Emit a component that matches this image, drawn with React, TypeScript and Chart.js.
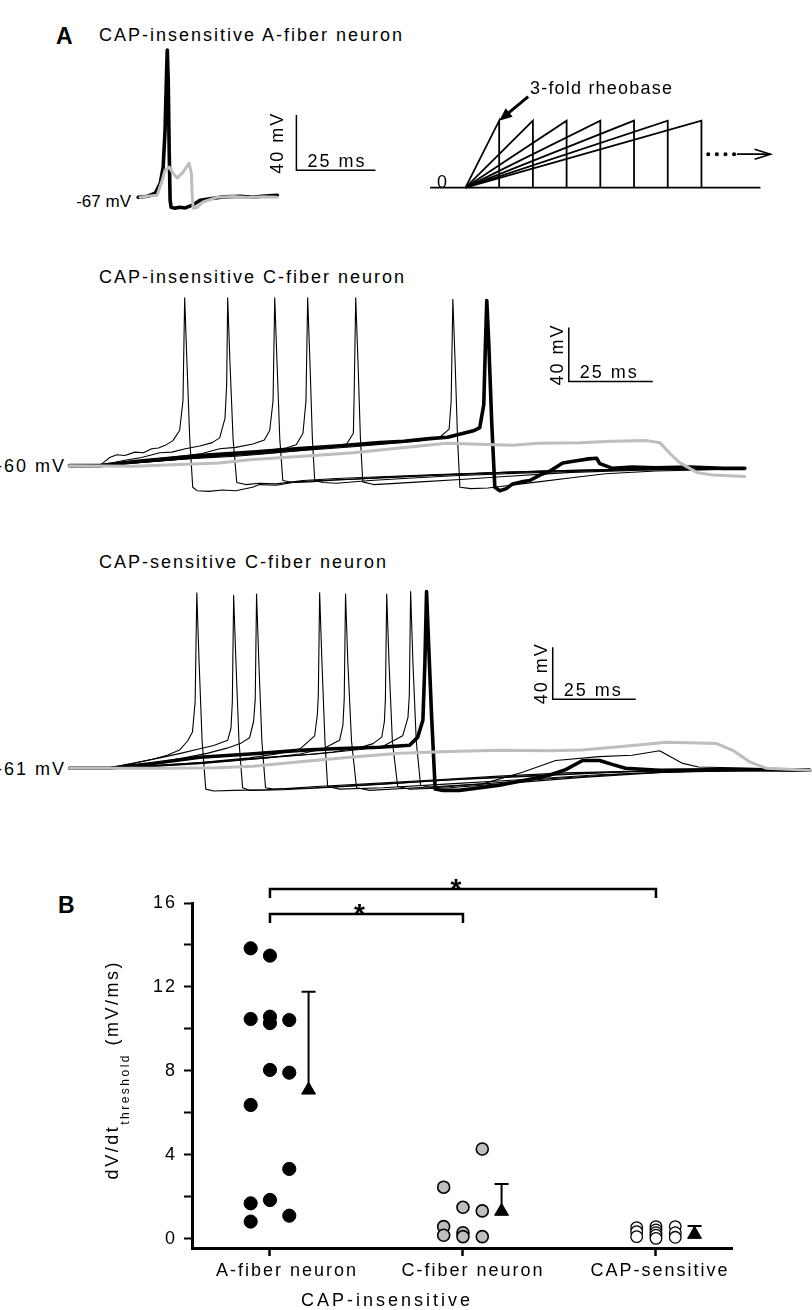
import React, { useEffect, useRef } from 'react';
import { Chart, registerables } from 'chart.js';

Chart.register(...registerables);

const FONT = '"Liberation Sans", Arial, Helvetica, sans-serif';
const LS = 2;
Chart.defaults.font.family = FONT;
Chart.defaults.color = '#000';

type Pt = [number, number];

// ---------------- Panel A: CAP-insensitive A-fiber neuron (ms, mV) ----------------
const aFiberRest = -67;
const aFiberSpike: Pt[] = [
  [0, -67.7], [3, -67], [5.4, -64.8], [7.0, -57.5], [7.9, -45.9], [8.5, -19], [9.0, 24.6], [9.2, 39.2],
  [9.5, 17.4], [9.8, -33.5], [10.1, -69.9], [10.4, -75], [11.7, -75.7], [13, -75], [14.9, -75.5],
  [17.1, -73.5], [19.6, -69.9], [23.7, -68.5], [27, -67.5], [32.3, -67], [36, -67.8], [40, -66.8], [44, -66.3],
];
const aFiberSub: Pt[] = [
  [0.6, -67.7], [3, -67], [6.0, -66.3], [7.6, -55.4], [8.5, -48.1], [9.8, -45.9], [10.8, -49.5], [12.3, -53.9],
  [14.2, -49.5], [16.1, -43], [16.8, -50.3], [17.1, -67.7], [17.4, -75.7], [18.7, -75], [20.3, -71.4],
  [25, -67.7], [30, -67.2], [35, -68], [40, -67.3], [44, -67.7],
];

// ---------------- Stimulation protocol (ramp end = multiples of first ramp) ----------------
const rampDurations = [1, 2, 3, 4, 5, 6, 7];
const rampAmplitude = 3; // 3-fold rheobase
const protocolSpan: Pt = [-1.05, 8.75];
const continuationDots: Pt = [7.2, 8.05];
const continuationArrowEnd = 9.05;
const continuationLevel = 1.5;

// ---------------- Panel A: CAP-insensitive C-fiber neuron (ms, mV) ----------------
const cInsRest = -60;
const cIns1: Pt[] = [[0.5, -60], [5, -60.5], [9.5, -60], [11, -57], [12.5, -54], [14.6, -52], [17, -52.5], [20, -50], [22.5, -50.5], [25, -47.5], [27, -47], [29, -45], [31.3, -41.5], [33.3, -34], [34.3, -12], [34.8, 64], [35.5, 15], [36.3, -40], [37.2, -76], [38.5, -78.5], [42, -79], [46, -78], [50, -78.5], [55, -76], [57, -74], [62, -74.5], [68, -72], [75, -71], [85, -70], [95, -68.5], [110, -67], [125, -65.5], [140, -64], [160, -63], [180, -62.5], [201.5, -62]];
const cIns2: Pt[] = [[0.5, -60], [9.5, -60], [13, -58], [17, -56], [22, -54], [27.4, -50.5], [31, -50], [35, -47.5], [39.3, -45.5], [43, -43], [45.2, -39.5], [46.8, -25], [47.3, 0], [47.6, 64], [48.3, 15], [49.2, -40], [50.3, -72.5], [53, -74], [57, -73], [62, -73.5], [70, -71], [80, -69.5], [95, -68], [110, -66.5], [130, -65], [150, -63.5], [175, -62.5], [201.5, -62]];
const cIns3: Pt[] = [[0.5, -60], [9.5, -60], [15, -58.5], [22, -56], [30, -54], [35.4, -52.5], [40, -51], [45.2, -47.5], [50, -46.5], [55.1, -44], [58.5, -41], [60.1, -34], [61.1, -12], [61.6, 64], [62.3, 15], [63.1, -40], [64, -71], [67, -72.5], [72, -72], [80, -70.5], [95, -69], [110, -67], [130, -65], [160, -63], [201.5, -62]];
const cIns4: Pt[] = [[0.5, -60], [9.5, -60], [18, -58], [30, -56], [40, -54], [50, -52], [60, -48.5], [65, -47], [68, -44.5], [70, -36], [70.9, -12], [71.4, 64], [72.1, 15], [72.8, -40], [73.5, -71], [76, -72.5], [80, -73], [90, -71], [100, -69.5], [115, -67.5], [135, -65.5], [160, -63.5], [201.5, -62]];
const cIns5: Pt[] = [[0.5, -60], [9.5, -60], [20, -58], [35, -55], [50, -53], [60, -51], [70, -48.5], [78, -46.5], [83, -44], [85, -36], [85.2, -12], [85.7, 64], [86.4, 15], [87.1, -40], [87.8, -72], [91, -74], [95, -73.5], [105, -72], [118, -70], [130, -68], [150, -65], [175, -63], [201.5, -62]];
const cIns6: Pt[] = [[0.5, -60], [9.5, -60], [25, -57], [40, -54], [55, -51.5], [69, -49], [85, -46], [98.8, -43], [105, -41.5], [110.7, -39], [113.5, -33], [114.1, -12], [114.6, 63], [115.3, 15], [116, -40], [116.7, -76], [120, -77], [125, -76.5], [130, -75], [140, -72], [150, -69], [160, -66], [175, -64], [201.5, -62.5]];
const cInsThick: Pt[] = [[0.5, -60], [9.5, -60], [20, -57], [39.3, -52.6], [55, -50], [69, -47.4], [80, -45.5], [92.9, -43], [100, -42], [107.7, -40], [113, -39], [117.5, -36.3], [121, -34], [122.6, -31.9], [123.8, -15], [124.3, 30], [124.7, 62], [125.3, 30], [126.2, -30], [127.1, -76], [128.6, -78.5], [130.5, -77], [132.4, -73.5], [135, -72], [137.5, -71], [140.5, -67], [143.5, -64], [147.3, -58], [150, -57], [152.4, -56], [155, -55], [157.4, -54.5], [158.3, -58.5], [162.2, -62], [168, -61], [175, -61.5], [185, -61], [195, -62], [201.5, -62]];
const cInsGray: Pt[] = [[0.5, -60], [20, -60.5], [35, -59], [45, -58], [55, -55.5], [70, -53], [85, -50.5], [98.8, -47], [112.8, -43.5], [120, -44], [132.4, -45], [140, -43.5], [152.4, -43], [162, -42], [172.3, -41.5], [176.2, -43], [179.2, -51], [182.1, -57.8], [187.2, -65], [192, -67], [201.5, -68]];

// ---------------- Panel A: CAP-sensitive C-fiber neuron (ms, mV) ----------------
const cSenRest = -61;
const cSen1: Pt[] = [[0.6, -61], [8, -61.5], [12.7, -61], [15.7, -59], [20, -57], [25.6, -54], [30, -51], [33.7, -47], [36.1, -40], [37.6, -33], [38.4, -10], [38.9, 74], [39.6, 20], [40.5, -40], [41.6, -77], [44, -78.5], [50, -78], [60, -77.5], [75, -75], [90, -73], [110, -70], [130, -67], [150, -64.5], [175, -63], [200, -62], [223.5, -61.5]];
const cSen2: Pt[] = [[0.6, -61], [12.7, -61], [16, -59], [22, -56], [27.7, -53], [34, -49.5], [39.8, -46], [44, -43.5], [48.2, -39.5], [49.2, -30], [49.6, -10], [50, 72], [50.7, 20], [51.6, -40], [52.7, -76], [55, -78], [65, -77.5], [80, -75.5], [100, -72.5], [120, -69], [145, -66], [170, -63.5], [200, -62], [223.5, -61.5]];
const cSen3: Pt[] = [[0.6, -61], [12.7, -61], [20, -59], [28, -56], [35, -53], [42, -49.5], [48, -45.5], [52, -42], [54.8, -37.5], [56, -25], [56.5, -8], [56.9, 73], [57.6, 20], [58.5, -40], [59.6, -76], [62, -77], [75, -76], [95, -73], [115, -70], [140, -67], [165, -64], [195, -62], [223.5, -61.5]];
const cSen4: Pt[] = [[0.6, -61], [12.7, -61], [25, -59], [40, -56.5], [54.8, -53], [63, -50], [70, -46], [74.4, -36], [75.2, -20], [75.5, -5], [75.9, 74], [76.6, 20], [77.5, -40], [78.3, -75], [82, -77], [95, -76], [115, -73], [135, -70], [160, -66], [190, -63], [223.5, -62]];
const cSen5: Pt[] = [[0.6, -61], [12.7, -61], [25, -59.5], [40, -57.5], [60, -53], [70, -50], [77, -46], [81.9, -39.5], [82.9, -28], [83.3, -8], [83.7, 73], [84.4, 20], [85.5, -40], [87, -76], [91, -78], [105, -76], [125, -73], [145, -69], [170, -65], [200, -62.5], [223.5, -62]];
const cSen6: Pt[] = [[0.6, -61], [12.7, -61], [25, -59.5], [40, -57], [55, -54], [70, -51], [80, -48.5], [88, -45], [92, -42], [94.6, -37], [95.4, -25], [95.7, -8], [96.1, 73], [96.8, 20], [97.8, -40], [99.4, -75], [103, -77], [115, -76], [135, -72], [155, -68], [180, -64], [223.5, -62]];
const cSen7: Pt[] = [[0.6, -61], [12.7, -61], [25, -59], [40, -56.5], [60, -52.5], [75, -50], [88, -46.5], [95, -44], [100.9, -36], [102.5, -22], [102.9, -5], [103.3, 75], [104, 20], [105, -40], [106.3, -74], [110, -76], [125, -73], [137, -64], [147, -55], [160, -52], [170, -51], [178.3, -47.5], [185, -57], [190, -60], [223.5, -62]];
const cSenThick: Pt[] = [[0.6, -61], [12.7, -61], [25, -57.5], [39.8, -52.5], [55, -50], [69.9, -47.2], [80, -46], [94, -44.8], [103, -43.3], [105.4, -37.2], [107, -24], [107.6, 20], [108.1, 75], [108.8, 30], [109.6, -20], [110.7, -77], [113, -78], [118, -78], [130.1, -74], [138, -70], [145, -66.4], [150, -62], [155.1, -55], [160.2, -55], [164, -58], [168, -61], [178.3, -62.5], [200, -62], [223.5, -62.5]];
const cSenGray: Pt[] = [[0.6, -61], [12.7, -61], [30, -61], [45, -60.5], [56, -59.5], [70, -56], [85, -52.5], [100, -49.5], [115, -48], [130.1, -47.2], [145, -47.5], [155, -47], [170.2, -43.5], [180.4, -41], [190, -41.5], [195.5, -42], [200.3, -47.2], [205.4, -56], [210.5, -61], [223.5, -62.5]];

// ---------------- Panel B: dV/dt at threshold (mV/ms) ----------------
const groupLabels = ['A-fiber neuron', 'C-fiber neuron', 'CAP-sensitive'];
const groupTitle = 'CAP-insensitive';
const aFiberValues = [13.84, 10.47, 6.37, 1.68, 0.81, 13.49, 10.58, 10.27, 8.04, 1.84, 10.42, 7.91, 3.32, 1.09];
const aFiberColumn = [-1, -1, -1, -1, -1, 0, 0, 0, 0, 0, 1, 1, 1, 1];
const cFiberValues = [2.45, 0.57, 0.16, 1.49, 0.28, 0.09, 4.27, 1.32, 0.09];
const cFiberColumn = [-1, -1, -1, 0, 0, 0, 1, 1, 1];
const capSenValues = [0.52, 0.33, 0.09, 0.57, 0.41, 0.28, 0.16, 0.01, 0.57, 0.28, 0.06];
const capSenColumn = [-1, -1, -1, 0, 0, 0, 0, 0, 1, 1, 1];
const groupMeans = [7.08, 1.3, 0.2];
const groupSD = [4.69, 1.3, 0.4];
const yTickValues = [0, 2, 4, 6, 8, 10, 12, 14, 16];
const comparisons = [
  { from: 0, to: 2, level: 16.67 },
  { from: 0, to: 1, level: 15.47 },
];

// ---------------- helpers ----------------
const STYLE: Record<string, { w: number; c: string; order: number }> = {
  thin: { w: 1.1, c: '#000', order: 2 },
  thick: { w: 3.6, c: '#000', order: 1 },
  gray: { w: 3, c: '#bdbdbd', order: 0 },
};
const labelShift = [17, 10, 4];

type Trace = { pts: Pt[]; kind: 'thin' | 'thick' | 'gray' };

function Txt(props: { x: number; y: number; size?: number; bold?: boolean; ls?: number; align?: 'left' | 'right' | 'center'; children: React.ReactNode }) {
  const { x, y, size = 18, bold = false, ls = LS, align = 'left', children } = props;
  const tx = align === 'left' ? '0' : align === 'right' ? '-100%' : '-50%';
  return (
    <div
      style={{
        position: 'absolute', left: x, top: y - size * 0.49, fontFamily: FONT, fontSize: size,
        fontWeight: bold ? 700 : 400, lineHeight: `${size}px`, letterSpacing: ls,
        whiteSpace: 'nowrap', transform: `translateX(${tx})`, color: '#000',
      }}
    >
      {children}
    </div>
  );
}

function TraceChart(props: {
  x0: number; y0: number; rest: number; pxX: number; pxY: number;
  xMin: number; xMax: number; yMin: number; yMax: number; traces: Trace[];
  bar: { t: number; v: number; dt: number; dv: number; labelOffset: number };
}) {
  const { x0, y0, rest, pxX, pxY, xMin, xMax, yMin, yMax, traces, bar } = props;
  const ref = useRef<HTMLCanvasElement>(null);
  const left = x0 + xMin * pxX;
  const top = y0 - (yMax - rest) * pxY;
  const w = Math.round((xMax - xMin) * pxX);
  const h = Math.round((yMax - yMin) * pxY);
  useEffect(() => {
    const barPlugin = {
      id: 'scalebar',
      afterDatasetsDraw(chart: any) {
        const { ctx, scales } = chart;
        const xs = scales.x, ys = scales.y;
        const px0 = xs.getPixelForValue(bar.t), py0 = ys.getPixelForValue(bar.v);
        const px1 = xs.getPixelForValue(bar.t + bar.dt), py1 = ys.getPixelForValue(bar.v + bar.dv);
        ctx.save();
        ctx.strokeStyle = '#000';
        ctx.lineWidth = 1.5;
        ctx.beginPath();
        ctx.moveTo(px0, py1);
        ctx.lineTo(px0, py0);
        ctx.lineTo(px1, py0);
        ctx.stroke();
        ctx.fillStyle = '#000';
        ctx.font = `18px ${FONT}`;
        (ctx as any).letterSpacing = `${LS}px`;
        ctx.textAlign = 'left';
        ctx.textBaseline = 'alphabetic';
        ctx.fillText(`${bar.dt} ms`, px0 + 11, py0 - 3.6);
        ctx.translate(px0 - bar.labelOffset, (py0 + py1) / 2);
        ctx.rotate(-Math.PI / 2);
        ctx.textAlign = 'center';
        ctx.fillText(`${bar.dv} mV`, 0, 0);
        ctx.restore();
      },
    };
    const chart = new Chart(ref.current as HTMLCanvasElement, {
      type: 'line',
      data: {
        datasets: traces.map((t) => ({
          data: t.pts.map(([x, y]) => ({ x, y })),
          borderColor: STYLE[t.kind].c,
          borderWidth: STYLE[t.kind].w,
          order: STYLE[t.kind].order,
          pointRadius: 0,
          tension: 0,
          fill: false,
          borderJoinStyle: 'round',
          borderCapStyle: 'round',
        })),
      } as any,
      options: {
        animation: false,
        responsive: false,
        events: [],
        layout: { padding: 0 },
        plugins: { legend: { display: false }, tooltip: { enabled: false } },
        scales: {
          x: { type: 'linear', display: false, min: xMin, max: xMax },
          y: { type: 'linear', display: false, min: yMin, max: yMax },
        },
      } as any,
      plugins: [barPlugin],
    });
    return () => chart.destroy();
  }, []);
  return <canvas ref={ref} width={w} height={h} style={{ position: 'absolute', left, top, width: w, height: h }} />;
}

function RampChart() {
  const ref = useRef<HTMLCanvasElement>(null);
  const pxX = 33.7, pxY = 22.33, x0 = 465, y0 = 188;
  const xMin = -1.2, xMax = 9.3, yMin = -0.6, yMax = 4.6;
  const left = x0 + xMin * pxX;
  const top = y0 - yMax * pxY;
  const w = Math.round((xMax - xMin) * pxX);
  const h = Math.round((yMax - yMin) * pxY);
  useEffect(() => {
    const line = (pts: Pt[], extra: any = {}) => ({
      data: pts.map(([x, y]) => ({ x, y })), borderColor: '#000', borderWidth: 1.8,
      pointRadius: 0, tension: 0, fill: false, borderJoinStyle: 'miter', ...extra,
    });
    const ds: any[] = rampDurations.map((d) => line([[0, 0], [d, rampAmplitude], [d, 0]]));
    ds.push(line([[protocolSpan[0], 0], [protocolSpan[1], 0]]));
    ds.push(line([[continuationDots[0], continuationLevel], [continuationDots[1], continuationLevel]], { borderWidth: 4, borderDash: [0.1, 8.5], borderCapStyle: 'round' }));
    ds.push(line([[continuationDots[1], continuationLevel], [continuationArrowEnd, continuationLevel]], { borderWidth: 1.6 }));
    const arrowPlugin = {
      id: 'arrows',
      afterDatasetsDraw(chart: any) {
        const { ctx, scales } = chart;
        const xs = scales.x, ys = scales.y;
        ctx.save();
        ctx.strokeStyle = '#000';
        ctx.fillStyle = '#000';
        const tx = xs.getPixelForValue(continuationArrowEnd), ty = ys.getPixelForValue(continuationLevel);
        ctx.lineWidth = 1.6;
        ctx.beginPath();
        ctx.moveTo(tx - 16, ty - 5);
        ctx.lineTo(tx, ty);
        ctx.lineTo(tx - 16, ty + 5);
        ctx.stroke();
        const px = xs.getPixelForValue(rampDurations[0]), py = ys.getPixelForValue(rampAmplitude);
        const sx = px + 29, sy = py - 24;
        const ang = Math.atan2(py - sy, px - sx);
        ctx.lineWidth = 3;
        ctx.beginPath();
        ctx.moveTo(sx, sy);
        ctx.lineTo(px - Math.cos(ang) * 8, py - Math.sin(ang) * 8);
        ctx.stroke();
        ctx.beginPath();
        ctx.moveTo(px, py);
        ctx.lineTo(px - Math.cos(ang) * 13 - Math.sin(ang) * 5.5, py - Math.sin(ang) * 13 + Math.cos(ang) * 5.5);
        ctx.lineTo(px - Math.cos(ang) * 13 + Math.sin(ang) * 5.5, py - Math.sin(ang) * 13 - Math.cos(ang) * 5.5);
        ctx.closePath();
        ctx.fill();
        ctx.restore();
      },
    };
    const chart = new Chart(ref.current as HTMLCanvasElement, {
      type: 'line',
      data: { datasets: ds },
      options: {
        animation: false, responsive: false, events: [], layout: { padding: 0 },
        plugins: { legend: { display: false }, tooltip: { enabled: false } },
        scales: {
          x: { type: 'linear', display: false, min: xMin, max: xMax },
          y: { type: 'linear', display: false, min: yMin, max: yMax },
        },
      } as any,
      plugins: [arrowPlugin],
    });
    return () => chart.destroy();
  }, []);
  return <canvas ref={ref} width={w} height={h} style={{ position: 'absolute', left, top, width: w, height: h }} />;
}

function ScatterChart() {
  const ref = useRef<HTMLCanvasElement>(null);
  const left = 0, top = 860, w = 812, h = 450;
  useEffect(() => {
    const jitter = 0.1;
    const pts = (vals: number[], cols: number[], g: number) => vals.map((v, i) => ({ x: g + 1 + cols[i] * jitter, y: v }));
    const extras = {
      id: 'extras',
      beforeDraw(chart: any) {
        (chart.ctx as any).letterSpacing = `${LS}px`;
      },
      beforeDatasetsDraw(chart: any) {
        const { ctx, scales } = chart;
        const xs = scales.x, ys = scales.y;
        ctx.save();
        ctx.strokeStyle = '#000';
        ctx.lineWidth = 2;
        groupMeans.forEach((m, i) => {
          const x = xs.getPixelForValue(i + 1 + 2 * jitter);
          const y0 = ys.getPixelForValue(m), y1 = ys.getPixelForValue(m + groupSD[i]);
          ctx.beginPath();
          ctx.moveTo(x, y0);
          ctx.lineTo(x, y1);
          ctx.moveTo(x - 7, y1);
          ctx.lineTo(x + 7, y1);
          ctx.stroke();
        });
        ctx.restore();
      },
      afterDraw(chart: any) {
        const { ctx, scales, chartArea } = chart;
        const xs = scales.x, ys = scales.y;
        ctx.save();
        ctx.strokeStyle = '#000';
        ctx.fillStyle = '#000';
        // category labels under the tick marks
        (ctx as any).letterSpacing = `${LS}px`;
        ctx.font = `18px ${FONT}`;
        ctx.textAlign = 'center';
        ctx.textBaseline = 'middle';
        groupLabels.forEach((lab, i) => {
          ctx.fillText(lab, xs.getPixelForValue(i + 1) + labelShift[i], chartArea.bottom + 23);
        });
        ctx.lineWidth = 2.5;
        comparisons.forEach((c) => {
          const x1 = xs.getPixelForValue(c.from + 1), x2 = xs.getPixelForValue(c.to + 1);
          const y = ys.getPixelForValue(c.level);
          ctx.beginPath();
          ctx.moveTo(x1, y + 9);
          ctx.lineTo(x1, y);
          ctx.lineTo(x2, y);
          ctx.lineTo(x2, y + 9);
          ctx.stroke();
          ctx.font = `bold 28px ${FONT}`;
          (ctx as any).letterSpacing = '0px';
          ctx.textAlign = 'center';
          ctx.textBaseline = 'alphabetic';
          ctx.fillText('*', (x1 + x2) / 2 - 7, y - 7 + 16);
        });
        // y-axis title with subscript, read bottom to top, ending at the top anchor
        (ctx as any).letterSpacing = '2.5px';
        const parts = [
          { t: 'dV/dt', f: `18px ${FONT}`, dy: 0 },
          { t: 'threshold', f: `12px ${FONT}`, dy: 11 },
          { t: ' (mV/ms)', f: `18px ${FONT}`, dy: 0 },
        ];
        let total = 0;
        const widths = parts.map((p) => {
          ctx.font = p.f;
          const wd = ctx.measureText(p.t).width;
          total += wd;
          return wd;
        });
        ctx.translate(118, 960 - top);
        ctx.rotate(-Math.PI / 2);
        ctx.textAlign = 'left';
        ctx.textBaseline = 'alphabetic';
        let x = -total;
        parts.forEach((p, i) => {
          ctx.font = p.f;
          ctx.fillText(p.t, x, p.dy);
          x += widths[i];
        });
        ctx.restore();
      },
    };
    const chart = new Chart(ref.current as HTMLCanvasElement, {
      type: 'scatter',
      data: {
        datasets: [
          { data: pts(aFiberValues, aFiberColumn, 0), backgroundColor: '#000', borderColor: '#000', pointRadius: 6.6, borderWidth: 1, order: 3 },
          { data: pts(cFiberValues, cFiberColumn, 1), backgroundColor: '#bebebe', borderColor: '#000', pointRadius: 6, borderWidth: 1.6, order: 3 },
          { data: pts(capSenValues, capSenColumn, 2), backgroundColor: '#fff', borderColor: '#000', pointRadius: 5.8, borderWidth: 1.3, order: 3 },
          { data: groupMeans.map((m, i) => ({ x: i + 1 + 2 * jitter, y: m })), backgroundColor: '#000', borderColor: '#000', pointStyle: 'triangle', pointRadius: 8, borderWidth: 1, order: 1 },
        ],
      } as any,
      options: {
        animation: false, responsive: false, events: [],
        layout: { padding: { top: 43, right: 80, left: 0, bottom: 0 } },
        plugins: { legend: { display: false }, tooltip: { enabled: false } },
        scales: {
          x: {
            type: 'linear', min: 0.596, max: 3.394,
            afterBuildTicks: (axis: any) => { axis.ticks = groupLabels.map((_, i) => ({ value: i + 1 })); },
            afterFit: (axis: any) => { axis.height = 62; },
            ticks: { callback: () => '', autoSkip: false, maxRotation: 0 },
            grid: { drawOnChartArea: false, drawTicks: true, tickLength: 8, tickWidth: 2.5, tickColor: '#000' },
            border: { display: true, color: '#000', width: 3 },
          },
          y: {
            type: 'linear', min: -0.45, max: 16,
            afterBuildTicks: (axis: any) => { axis.ticks = yTickValues.map((v) => ({ value: v })); },
            afterFit: (axis: any) => { axis.width = 192; },
            ticks: { callback: (v: any) => (v % 4 === 0 ? String(v) : ''), font: { size: 18, family: FONT }, color: '#000', padding: 7, autoSkip: false },
            grid: { drawOnChartArea: false, drawTicks: true, tickLength: 8, tickWidth: 2, tickColor: '#000' },
            border: { display: true, color: '#000', width: 3 },
          },
        },
      } as any,
      plugins: [extras],
    });
    return () => chart.destroy();
  }, []);
  return <canvas ref={ref} width={w} height={h} style={{ position: 'absolute', left, top, width: w, height: h }} />;
}

export default function App() {
  return (
    <div style={{ position: 'absolute', left: 0, top: 0, width: 812, height: 1310, overflow: 'hidden', background: '#fff', fontFamily: FONT, color: '#000' }}>
      <Txt x={56} y={36} size={23} bold ls={0}>A</Txt>
      <Txt x={99} y={35}>CAP-insensitive A-fiber neuron</Txt>
      <Txt x={131} y={201} size={17} ls={0} align="right">-67 mV</Txt>
      <TraceChart
        x0={138} y0={196} rest={aFiberRest} pxX={3.16} pxY={1.375}
        xMin={-1} xMax={78} yMin={-85} yMax={45}
        traces={[{ pts: aFiberSub, kind: 'gray' }, { pts: aFiberSpike, kind: 'thick' }]}
        bar={{ t: 50, v: -48.1, dt: 25, dv: 40, labelOffset: 13 }}
      />
      <RampChart />
      <Txt x={437} y={182} ls={0}>0</Txt>
      <Txt x={530} y={88} ls={1.2}>3-fold rheobase</Txt>

      <Txt x={99} y={277}>CAP-insensitive C-fiber neuron</Txt>
      <Txt x={66} y={466} align="right">-60 mV</Txt>
      <TraceChart
        x0={68} y0={465} rest={cInsRest} pxX={3.36} pxY={1.35}
        xMin={-2} xMax={206} yMin={-95} yMax={75}
        traces={[
          { pts: cIns1, kind: 'thin' }, { pts: cIns2, kind: 'thin' }, { pts: cIns3, kind: 'thin' },
          { pts: cIns4, kind: 'thin' }, { pts: cIns5, kind: 'thin' }, { pts: cIns6, kind: 'thin' },
          { pts: cInsThick, kind: 'thick' }, { pts: cInsGray, kind: 'gray' },
        ]}
        bar={{ t: 149.1, v: 2.2, dt: 25, dv: 40, labelOffset: 6 }}
      />

      <Txt x={99} y={562}>CAP-sensitive C-fiber neuron</Txt>
      <Txt x={66} y={769} align="right">-61 mV</Txt>
      <TraceChart
        x0={68} y0={768} rest={cSenRest} pxX={3.32} pxY={1.3}
        xMin={-2} xMax={226} yMin={-100} yMax={80}
        traces={[
          { pts: cSen1, kind: 'thin' }, { pts: cSen2, kind: 'thin' }, { pts: cSen3, kind: 'thin' },
          { pts: cSen4, kind: 'thin' }, { pts: cSen5, kind: 'thin' }, { pts: cSen6, kind: 'thin' },
          { pts: cSen7, kind: 'thin' }, { pts: cSenThick, kind: 'thick' }, { pts: cSenGray, kind: 'gray' },
        ]}
        bar={{ t: 146.1, v: -7.9, dt: 25, dv: 40, labelOffset: 6 }}
      />

      <Txt x={58} y={905} size={23} bold ls={0}>B</Txt>
      <ScatterChart />
      <Txt x={387} y={1300} ls={3} align="center">{groupTitle}</Txt>
    </div>
  );
}
